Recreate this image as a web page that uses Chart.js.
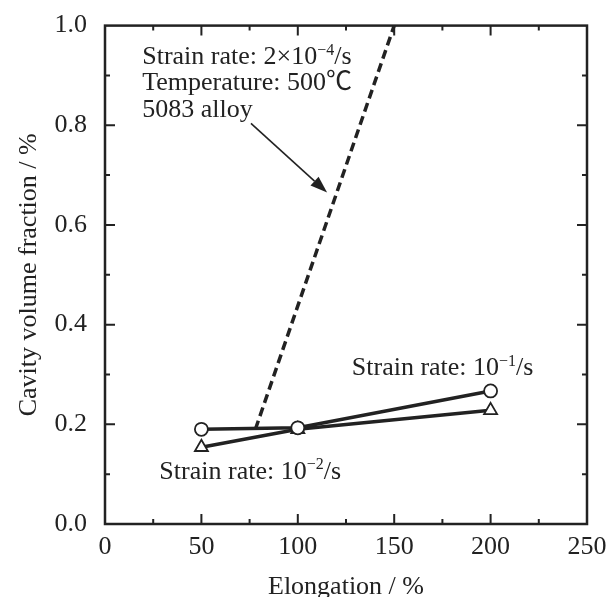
<!DOCTYPE html>
<html><head><meta charset="utf-8">
<script src="https://cdn.jsdelivr.net/npm/chart.js@4.4.0/dist/chart.umd.min.js"></script>
<style>html,body{margin:0;padding:0;background:#fff}#wrap{width:611px;height:597px;position:relative}</style>
</head><body><div id="wrap"><canvas id="c"></canvas></div>
<script>
// ---- data ----
const elongation = [50, 100, 200];
const rateE1 = [0.19, 0.193, 0.267];   // circles, strain rate 10^-1/s
const rateE2 = [0.154, 0.19, 0.228];   // triangles, strain rate 10^-2/s
const slowElong = [78, 150];           // dashed, strain rate 2x10^-4/s
const slowFrac = [0.19, 1.0];
const xTickValues = [0, 50, 100, 150, 200, 250];
const yTickValues = [0.0, 0.2, 0.4, 0.6, 0.8, 1.0];
const xTitle = 'Elongation / %';
const yTitle = 'Cavity volume fraction / %';

const INK = '#222';
const FONT = '"Liberation Serif", "Noto Sans CJK JP", serif';
const FS = 26;

function pts(xs, ys){ return xs.map((x,i)=>({x:x, y:ys[i]})); }

// annotation anchors in data units
const notes = [
  {x: 19.3, y: 0.922, parts: [['Strain rate: 2×10'], ['−4', 1], ['/s']]},
  {x: 19.3, y: 0.870, parts: [['Temperature: 500℃']]},
  {x: 19.3, y: 0.816, parts: [['5083 alloy']]},
  {x: 128, y: 0.298, parts: [['Strain rate: 10'], ['−1', 1], ['/s']]},
  {x: 28.2, y: 0.09, parts: [['Strain rate: 10'], ['−2', 1], ['/s']]}
];
const arrow = {x1: 75.7, y1: 0.804, x2: 115.2, y2: 0.665};

function drawRich(ctx, parts, x, y){
  let cx = x;
  for (const p of parts){
    if (p[1]){
      ctx.font = Math.round(FS*0.6) + 'px ' + FONT;
      ctx.fillText(p[0], cx, y - FS*0.38);
    } else {
      ctx.font = FS + 'px ' + FONT;
      ctx.fillText(p[0], cx, y);
    }
    cx += ctx.measureText(p[0]).width;
  }
}

const framePlugin = {
  id: 'frame',
  beforeDatasetsDraw(chart){
    const {ctx, chartArea:a, scales:{x, y}} = chart;
    ctx.save();
    ctx.strokeStyle = INK;
    ctx.lineWidth = 2;
    for (let v = 25; v < 250; v += 25){
      const px = x.getPixelForValue(v);
      const len = (v % 50 === 0) ? 10 : 5;
      ctx.beginPath();
      ctx.moveTo(px, a.bottom); ctx.lineTo(px, a.bottom - len);
      ctx.moveTo(px, a.top); ctx.lineTo(px, a.top + len);
      ctx.stroke();
    }
    for (let i = 1; i < 10; i++){
      const py = y.getPixelForValue(i/10);
      const len = (i % 2 === 0) ? 10 : 5;
      ctx.beginPath();
      ctx.moveTo(a.left, py); ctx.lineTo(a.left + len, py);
      ctx.moveTo(a.right, py); ctx.lineTo(a.right - len, py);
      ctx.stroke();
    }
    ctx.lineWidth = 2.5;
    ctx.strokeRect(a.left, a.top, a.right - a.left, a.bottom - a.top);
    ctx.restore();
  },
  afterDraw(chart){
    const {ctx, scales:{x, y}} = chart;
    ctx.save();
    ctx.fillStyle = INK;
    ctx.textBaseline = 'alphabetic';
    ctx.textAlign = 'left';
    for (const n of notes){
      drawRich(ctx, n.parts, x.getPixelForValue(n.x), y.getPixelForValue(n.y));
    }
    const x1 = x.getPixelForValue(arrow.x1), y1 = y.getPixelForValue(arrow.y1);
    const x2 = x.getPixelForValue(arrow.x2), y2 = y.getPixelForValue(arrow.y2);
    const ang = Math.atan2(y2 - y1, x2 - x1);
    const hl = 17, hw = 6;
    const bx = x2 - hl*Math.cos(ang), by = y2 - hl*Math.sin(ang);
    ctx.strokeStyle = INK; ctx.lineWidth = 1.6;
    ctx.beginPath(); ctx.moveTo(x1, y1); ctx.lineTo(bx, by); ctx.stroke();
    ctx.beginPath();
    ctx.moveTo(x2, y2);
    ctx.lineTo(bx + hw*Math.sin(ang), by - hw*Math.cos(ang));
    ctx.lineTo(bx - hw*Math.sin(ang), by + hw*Math.cos(ang));
    ctx.closePath(); ctx.fill();
    ctx.restore();
  }
};

new Chart(document.getElementById('c'), {
  type: 'line',
  data: {
    datasets: [
      {label: '2e-4', data: pts(slowElong, slowFrac), borderColor: INK, borderWidth: 3.5,
       borderDash: [9, 5], pointRadius: 0, fill: false, order: 3},
      {label: '1e-2', data: pts(elongation, rateE2), borderColor: INK, borderWidth: 3.5,
       pointStyle: 'triangle', pointRadius: 7.5, pointBackgroundColor: '#fff',
       pointBorderColor: INK, pointBorderWidth: 1.8, order: 2},
      {label: '1e-1', data: pts(elongation, rateE1), borderColor: INK, borderWidth: 3.5,
       pointStyle: 'circle', pointRadius: 6.5, pointBackgroundColor: '#fff',
       pointBorderColor: INK, pointBorderWidth: 1.8, order: 1}
    ]
  },
  options: {
    responsive: true, maintainAspectRatio: false, animation: false,
    layout: {padding: {top: 24, right: 24, left: 0, bottom: 0}},
    plugins: {legend: {display: false}, tooltip: {enabled: false}},
    elements: {line: {tension: 0}},
    scales: {
      x: {
        type: 'linear', min: 0, max: 250,
        afterBuildTicks(s){ s.ticks = xTickValues.map(v => ({value: v})); },
        afterFit(s){ s.height = 73; },
        grid: {display: false}, border: {display: false},
        ticks: {font: {family: FONT, size: FS}, color: INK, padding: 0, maxRotation: 0},
        title: {display: true, text: xTitle, font: {family: FONT, size: FS}, color: INK, padding: {top: 0, bottom: -6}}
      },
      y: {
        type: 'linear', min: 0, max: 1,
        afterBuildTicks(s){ s.ticks = yTickValues.map(v => ({value: v})); },
        afterFit(s){ s.width = 105; },
        grid: {display: false}, border: {display: false},
        ticks: {font: {family: FONT, size: FS}, color: INK, padding: 10,
                callback: v => Number(v).toFixed(1)},
        title: {display: true, text: yTitle, font: {family: FONT, size: FS}, color: INK, padding: {top: 14, bottom: 0}}
      }
    }
  },
  plugins: [framePlugin]
});
</script></body></html>
